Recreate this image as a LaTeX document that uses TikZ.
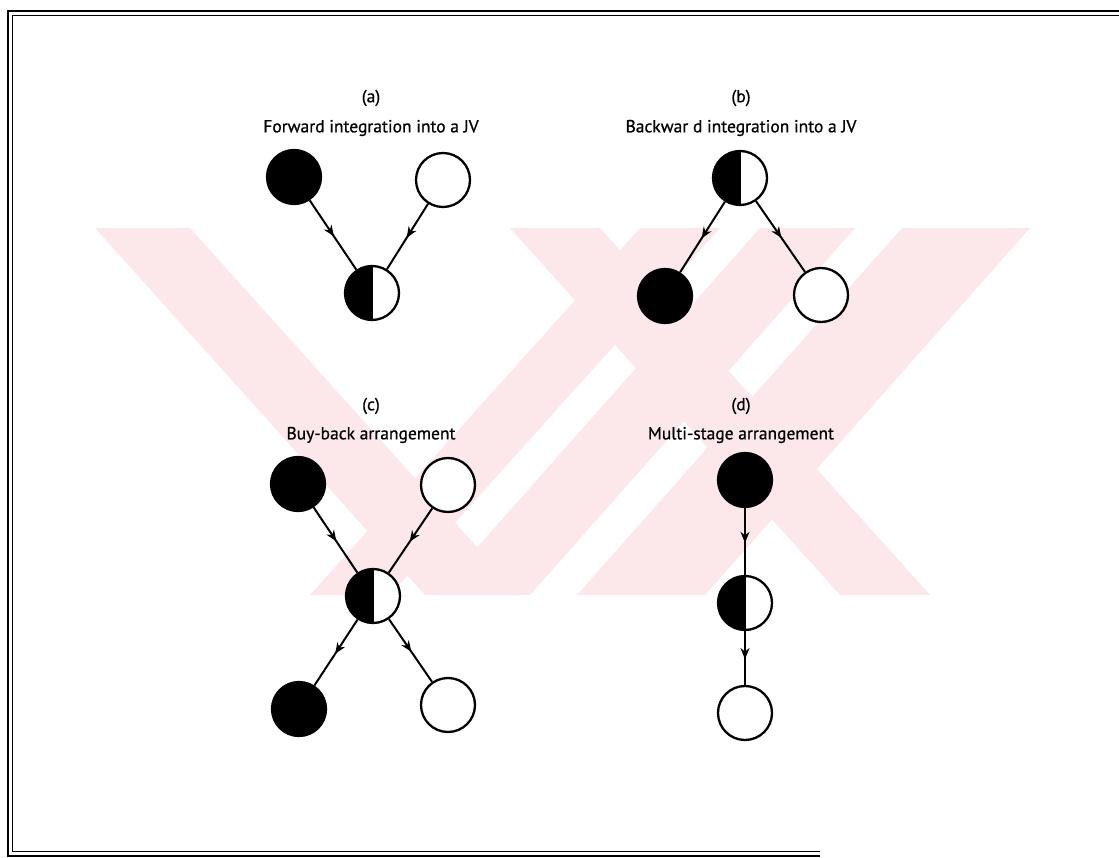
\documentclass[tikz,border=0pt]{standalone}
\usepackage{fontspec}
\setmainfont{PT Sans}
\usetikzlibrary{arrows.meta,decorations.markings}
\definecolor{wm}{RGB}{252,231,235}
\begin{document}
\begin{tikzpicture}[x=1pt,y=-1pt,
  circ/.style={circle,draw=black,line width=2.3pt,minimum size=54pt,inner sep=0pt},
  blk/.style={circ,fill=black},
  wht/.style={circ,fill=white},
  half/.style={circ,fill=white,path picture={\fill[black] (path picture bounding box.north west) rectangle (path picture bounding box.south);\draw[line width=2.3pt] (path picture bounding box.north) -- (path picture bounding box.south);}},
  conn/.style={line width=2pt,postaction={decorate},decoration={markings,mark=at position 0.52 with {\arrow{Stealth[length=11pt,width=9pt,inset=3.5pt]}}}},
  lbl/.style={font=\fontsize{17.5}{20}\selectfont\addfontfeatures{FakeBold=0.8},inner sep=0pt},
  frame/.style={line width=1.4pt}
]
\useasboundingbox (0,0) rectangle (1119,858);
% watermark
\fill[wm] (95,228) -- (190,228) -- (520,595) -- (425,595) -- cycle;
\fill[wm] (640,228) -- (720,228) -- (390,595) -- (310,595) -- cycle;
\fill[wm] (510,228) -- (600,228) -- (930,595) -- (840,595) -- cycle;
\fill[wm] (760,228) -- (855,228) -- (530,595) -- (435,595) -- cycle;
\fill[wm] (902,228) -- (1030,228) -- (705,595) -- (577,595) -- cycle;
% frame
\draw[frame] (1119,11) -- (8,11) -- (8,856) -- (820,856);
\draw[frame] (1119,15.5) -- (12.5,15.5) -- (12.5,851.5) -- (820,851.5);
% labels
\node[lbl] (la) at (371,98) {(a)};
\node[lbl] (ta) at (371,128) {Forward integration into a JV};
\node[lbl] (lb) at (741,98) {(b)};
\node[lbl] (tb) at (741,128) {Backwar d integration into a JV};
\node[lbl] (lc) at (371,406) {(c)};
\node[lbl] (tc) at (371,435) {Buy-back arrangement};
\node[lbl] (ld) at (741,406) {(d)};
\node[lbl] (td) at (741,435) {Multi-stage arrangement};
% (a)
\node[blk] (a1) at (294,177) {};
\node[wht] (a2) at (443,180) {};
\node[half] (a3) at (372,293) {};
% (b)
\node[half] (b1) at (740,178) {};
\node[blk] (b2) at (665,296) {};
\node[wht] (b3) at (821,295) {};
% (c)
\node[blk] (c1) at (298,484) {};
\node[wht] (c2) at (448,485) {};
\node[half] (c3) at (373,596) {};
\node[blk] (c4) at (299,709) {};
\node[wht] (c5) at (448,705) {};
% (d)
\node[blk] (d1) at (745,480) {};
\node[half] (d2) at (745,603) {};
\node[wht] (d3) at (745,713) {};
% connectors
\draw[conn] (a1) -- (a3);
\draw[conn] (a2) -- (a3);
\draw[conn] (b1) -- (b2);
\draw[conn] (b1) -- (b3);
\draw[conn] (c1) -- (c3);
\draw[conn] (c2) -- (c3);
\draw[conn] (c3) -- (c4);
\draw[conn] (c3) -- (c5);
\draw[conn] (d1) -- (d2);
\draw[conn] (d2) -- (d3);
\end{tikzpicture}
\end{document}
